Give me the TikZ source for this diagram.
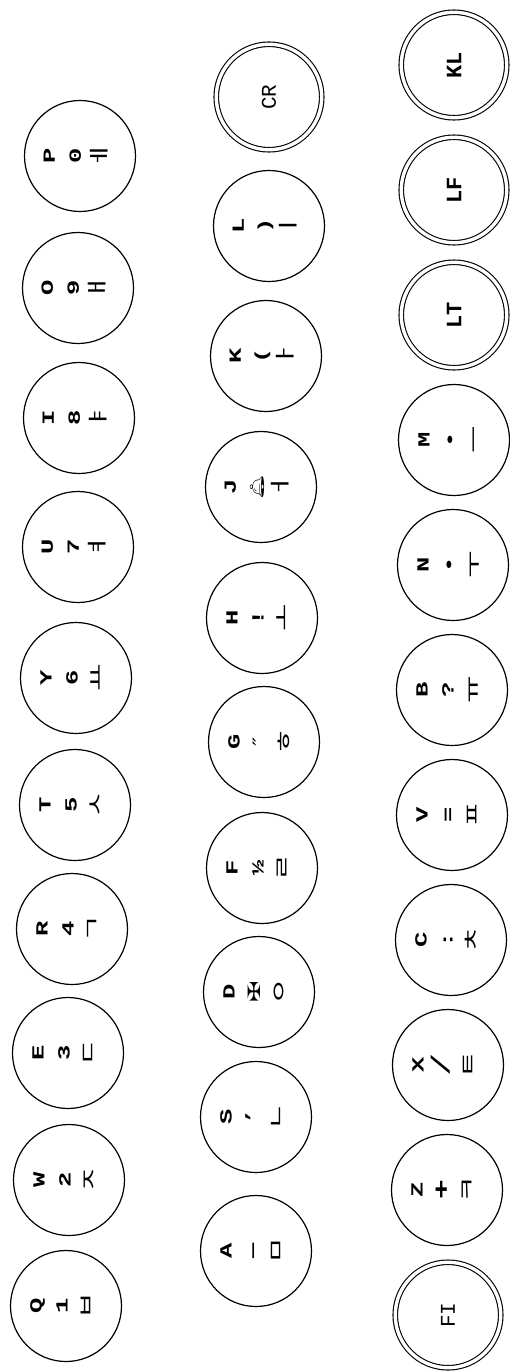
\documentclass[tikz,border=0pt]{standalone}
\usepackage{fontspec}
\usepackage{graphicx}
\setmainfont{Liberation Mono}
\newfontfamily\kofont{Noto Sans CJK KR}
\newfontfamily\symfont{DejaVu Sans}
\newfontfamily\emojifont{Noto Emoji}

\tikzset{
  keyring/.style={circle, draw, line width=1.2pt, minimum size=111pt, inner sep=0pt},
  ctrlring/.style={circle, draw, line width=1.1pt, double, double distance=3.4pt, minimum size=105.5pt, inner sep=0pt},
  keylabel/.style={rotate=90, align=center, inner sep=0pt, font=\fontsize{17}{26}\selectfont\bfseries},
  ctrllabel/.style={rotate=90, inner sep=0pt, font=\fontsize{22}{24}\selectfont\bfseries},
  ctrllight/.style={rotate=90, inner sep=0pt, font=\fontsize{21}{24}\selectfont},
}

\newcommand\keycap[6]{%
  \node[keyring] (#1) at (#2,#3) {};
  \node[keylabel] (#1-lab) at ([xshift=-4pt]#1.center)
    {\scalebox{1.5}[1]{#4}\\\scalebox{1.5}[1]{#5}\\\scalebox{1.5}[1]{\kofont\mdseries\fontsize{20}{26}\selectfont #6}};
}
\newcommand\ctrlkey[5]{%
  \node[ctrlring] (#1) at (#2,#3) {};
  \node[#5] (#1-lab) at (#1.center) {#4};
}

\begin{document}
\begin{tikzpicture}[x=1pt, y=-1pt]
\fill[white] (0,0) rectangle (509,1371);
\useasboundingbox (0,0) rectangle (509,1371);

% top row (left column)
\keycap{q}{66}{1306}{Q}{1}{ㅂ}
\keycap{w}{69}{1180}{W}{2}{ㅈ}
\keycap{e}{68}{1053}{E}{3}{ㄷ}
\keycap{r}{72}{929}{R}{4}{ㄱ}
\keycap{t}{75}{805}{T}{5}{ㅅ}
\keycap{y}{76}{678}{Y}{6}{ㅛ}
\keycap{u}{78}{547}{U}{7}{ㅕ}
\keycap{i}{79}{418}{I}{8}{ㅑ}
\keycap{o}{78}{288}{O}{9}{ㅐ}
\keycap{p}{80}{156}{P}{0}{ㅔ}

% middle row
\keycap{a}{256}{1251}{A}{—}{ㅁ}
\keycap{s}{256}{1117}{S}{’}{ㄴ}
\keycap{d}{259}{992}{D}{{\symfont\mdseries ✠}}{ㅇ}
\keycap{f}{262}{868}{F}{½}{ㄹ}
\keycap{g}{264}{742}{G}{{\symfont\mdseries ″}}{ㅎ}
\keycap{h}{262}{618}{H}{!}{ㅗ}
\keycap{j}{261}{487}{J}{{\emojifont\fontsize{14}{26}\selectfont 🔔}}{ㅓ}
\keycap{k}{266}{356}{K}{(}{ㅏ}
\keycap{l}{269}{226}{L}{)}{ㅣ}
\ctrlkey{cr}{269}{97}{CR}{ctrllight}

% bottom row
\ctrlkey{fi}{448}{1315}{FI}{ctrllight}
\keycap{z}{447}{1190}{Z}{{\fontsize{22}{26}\selectfont +}}{ㅋ}
\keycap{x}{448}{1065}{X}{{\mdseries\fontsize{26}{26}\selectfont /}}{ㅌ}
\keycap{c}{451}{940}{C}{:}{ㅊ}
\keycap{v}{452}{815}{V}{=}{ㅍ}
\keycap{b}{452}{690}{B}{?}{ㅠ}
\keycap{n}{453}{565}{N}{•}{ㅜ}
\keycap{m}{454}{440}{M}{•}{ㅡ}
\ctrlkey{lt}{454}{315}{LT}{ctrllabel}
\ctrlkey{lf}{454}{190}{LF}{ctrllabel}
\ctrlkey{kl}{454}{65}{KL}{ctrllabel}
\end{tikzpicture}
\end{document}
